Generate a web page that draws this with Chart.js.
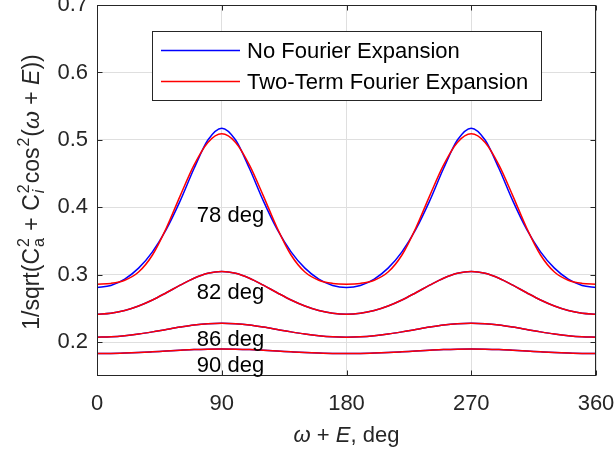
<!DOCTYPE html>
<html>
<head>
<meta charset="utf-8">
<script src="https://cdn.jsdelivr.net/npm/chart.js@4.4.1/dist/chart.umd.min.js"></script>
<style>
  html, body { margin: 0; padding: 0; background: #fff; }
</style>
</head>
<body>
<canvas id="chart" width="615" height="455"></canvas>
<script>
// 1/sqrt(Ca^2 + Ci^2 cos^2(w+E)) for four inclinations, exact vs two-term Fourier.
// Values every 10 deg.

const ANGLES = [0, 10, 20, 30, 40, 50, 60, 70, 80, 90, 100, 110, 120, 130, 140, 150, 160, 170, 180,
  190, 200, 210, 220, 230, 240, 250, 260, 270, 280, 290, 300, 310, 320, 330, 340, 350, 360];
const X_TICKS = [0, 90, 180, 270, 360];
const Y_TICKS = [0.2, 0.3, 0.4, 0.5, 0.6, 0.7];

const EXACT_78 = [0.2813, 0.2843, 0.2937, 0.3099, 0.3341, 0.3673, 0.4096, 0.4576, 0.4998, 0.5174,
  0.4998, 0.4576, 0.4096, 0.3673, 0.3341, 0.3099, 0.2937, 0.2843, 0.2813,
  0.2843, 0.2937, 0.3099, 0.3341, 0.3673, 0.4096, 0.4576, 0.4998, 0.5174,
  0.4998, 0.4576, 0.4096, 0.3673, 0.3341, 0.3099, 0.2937, 0.2843, 0.2813];
const FOURIER_78 = [0.2862, 0.2873, 0.2920, 0.3041, 0.3294, 0.3693, 0.4171, 0.4626, 0.4962, 0.5090,
  0.4962, 0.4626, 0.4171, 0.3693, 0.3294, 0.3041, 0.2920, 0.2873, 0.2862,
  0.2873, 0.2920, 0.3041, 0.3294, 0.3693, 0.4171, 0.4626, 0.4962, 0.5090,
  0.4962, 0.4626, 0.4171, 0.3693, 0.3294, 0.3041, 0.2920, 0.2873, 0.2862];
const EXACT_82 = [0.2417, 0.2431, 0.2471, 0.2538, 0.2627, 0.2734, 0.2846, 0.2950, 0.3023, 0.3050,
  0.3023, 0.2950, 0.2846, 0.2734, 0.2627, 0.2538, 0.2471, 0.2431, 0.2417,
  0.2431, 0.2471, 0.2538, 0.2627, 0.2734, 0.2846, 0.2950, 0.3023, 0.3050,
  0.3023, 0.2950, 0.2846, 0.2734, 0.2627, 0.2538, 0.2471, 0.2431, 0.2417];
const EXACT_86 = [0.2076, 0.2081, 0.2097, 0.2122, 0.2154, 0.2190, 0.2225, 0.2256, 0.2276, 0.2283,
  0.2276, 0.2256, 0.2225, 0.2190, 0.2154, 0.2122, 0.2097, 0.2081, 0.2076,
  0.2081, 0.2097, 0.2122, 0.2154, 0.2190, 0.2225, 0.2256, 0.2276, 0.2283,
  0.2276, 0.2256, 0.2225, 0.2190, 0.2154, 0.2122, 0.2097, 0.2081, 0.2076];
const EXACT_90 = [0.1832, 0.1834, 0.1840, 0.1848, 0.1859, 0.1871, 0.1882, 0.1892, 0.1898, 0.1900,
  0.1898, 0.1892, 0.1882, 0.1871, 0.1859, 0.1848, 0.1840, 0.1834, 0.1832,
  0.1834, 0.1840, 0.1848, 0.1859, 0.1871, 0.1882, 0.1892, 0.1898, 0.1900,
  0.1898, 0.1892, 0.1882, 0.1871, 0.1859, 0.1848, 0.1840, 0.1834, 0.1832];
// at 82, 86 and 90 deg the two curves can't be told apart in the picture
const FOURIER_82 = EXACT_82.slice();
const FOURIER_86 = EXACT_86.slice();
const FOURIER_90 = EXACT_90.slice();

const SERIES_NAMES = ["No Fourier Expansion", "Two-Term Fourier Expansion"];
const CURVE_LABELS = ["78 deg", "82 deg", "86 deg", "90 deg"];

// where the curve labels sit (data units: x, baseline y)
const LABEL_X = 96.3;
const LABEL_Y = [0.378, 0.2648, 0.1951, 0.1561];

const FONT = "'Liberation Sans', Arial, sans-serif";
const FONT_SIZE = 22;
const YTITLE_SIZE = 23;
const AXIS_COLOR = "#262626";
const GRID_COLOR = "#dfdfdf";
const BLUE = "#0000ff";
const RED = "#ff0000";

const Y_TITLE = [
  { t: "1/sqrt(C" }, { sup: "2", sub: "a" }, { t: " + C" }, { sup: "2", sub: "i", subIt: true },
  { t: "cos" }, { sup: "2" }, { t: "(" }, { t: "\u03c9", it: true }, { t: " + " }, { t: "E", it: true }, { t: "))" },
];
const X_TITLE = [{ t: "\u03c9", it: true }, { t: " + " }, { t: "E", it: true }, { t: ", deg" }];

function toPoints(values) {
  return values.map((v, i) => ({ x: ANGLES[i], y: v }));
}

function fontStr(size, italic) {
  return (italic ? "italic " : "") + size + "px " + FONT;
}

function drawRich(ctx, parts, size, x, y, angle) {
  const small = Math.round(size * 0.7);
  const widthOf = p => {
    if (p.t !== undefined) { ctx.font = fontStr(size, p.it); return ctx.measureText(p.t).width; }
    ctx.font = fontStr(small, false);
    const a = p.sup ? ctx.measureText(p.sup).width : 0;
    ctx.font = fontStr(small, p.subIt);
    const b = p.sub ? ctx.measureText(p.sub).width : 0;
    return Math.max(a, b) + 2;
  };
  const total = parts.reduce((s, p) => s + widthOf(p), 0);
  ctx.save();
  ctx.translate(x, y);
  ctx.rotate(angle);
  ctx.textAlign = "left";
  ctx.textBaseline = "alphabetic";
  let cx = -total / 2;
  parts.forEach(p => {
    const w = widthOf(p);
    if (p.t !== undefined) {
      ctx.font = fontStr(size, p.it);
      ctx.fillText(p.t, cx, 0);
    } else {
      ctx.font = fontStr(small, false);
      if (p.sup) ctx.fillText(p.sup, cx + 1, -size * 0.42);
      ctx.font = fontStr(small, p.subIt);
      if (p.sub) ctx.fillText(p.sub, cx + 1, size * 0.24);
    }
    cx += w;
  });
  ctx.restore();
}

const overlay = {
  id: "overlay",
  afterDraw(chart) {
    const { ctx, chartArea: a, scales: { x, y } } = chart;
    ctx.save();

    // axes box + inward ticks
    const L = Math.round(a.left) + 0.5, R = Math.round(a.right) - 0.5;
    const T = Math.round(a.top) + 0.5, B = Math.round(a.bottom) - 0.5;
    ctx.strokeStyle = AXIS_COLOR;
    ctx.lineWidth = 1;
    ctx.strokeRect(L, T, R - L, B - T);
    ctx.beginPath();
    X_TICKS.forEach(v => {
      const px = Math.round(x.getPixelForValue(v)) + 0.5;
      ctx.moveTo(px, B); ctx.lineTo(px, B - 5);
      ctx.moveTo(px, T); ctx.lineTo(px, T + 5);
    });
    Y_TICKS.forEach(v => {
      const py = Math.round(y.getPixelForValue(v)) + 0.5;
      ctx.moveTo(L, py); ctx.lineTo(L + 5, py);
      ctx.moveTo(R, py); ctx.lineTo(R - 5, py);
    });
    ctx.stroke();

    // curve labels
    ctx.fillStyle = "#000";
    ctx.font = fontStr(FONT_SIZE);
    ctx.textAlign = "center";
    ctx.textBaseline = "alphabetic";
    CURVE_LABELS.forEach((s, i) => {
      ctx.fillText(s, x.getPixelForValue(LABEL_X), y.getPixelForValue(LABEL_Y[i]));
    });

    // legend
    ctx.fillStyle = "#fff";
    ctx.fillRect(152.5, 31.5, 389, 69);
    ctx.strokeStyle = AXIS_COLOR;
    ctx.strokeRect(152.5, 31.5, 389, 69);
    const rows = [50.5, 81.5];
    [BLUE, RED].forEach((c, i) => {
      ctx.strokeStyle = c;
      ctx.lineWidth = 1.5;
      ctx.beginPath();
      ctx.moveTo(161, rows[i]); ctx.lineTo(240, rows[i]);
      ctx.stroke();
    });
    ctx.fillStyle = "#000";
    ctx.textAlign = "left";
    ctx.textBaseline = "middle";
    SERIES_NAMES.forEach((s, i) => ctx.fillText(s, 247, rows[i] + 1));

    // axis titles
    ctx.fillStyle = AXIS_COLOR;
    drawRich(ctx, X_TITLE, FONT_SIZE, (a.left + a.right) / 2, 442, 0);
    drawRich(ctx, Y_TITLE, YTITLE_SIZE, 38.5, 192, -Math.PI / 2);
    ctx.restore();
  },
};

function makeSet(values, color, order) {
  return { data: toPoints(values), borderColor: color, backgroundColor: color, order: order };
}

const tickFont = { family: FONT, size: FONT_SIZE };

new Chart(document.getElementById("chart"), {
  type: "line",
  data: {
    datasets: [
      makeSet(EXACT_78, BLUE, 1), makeSet(EXACT_82, BLUE, 1), makeSet(EXACT_86, BLUE, 1), makeSet(EXACT_90, BLUE, 1),
      makeSet(FOURIER_78, RED, 0), makeSet(FOURIER_82, RED, 0), makeSet(FOURIER_86, RED, 0), makeSet(FOURIER_90, RED, 0),
    ],
  },
  options: {
    responsive: false,
    animation: false,
    devicePixelRatio: 1,
    layout: { padding: { left: 0, right: 19, top: 5, bottom: 0 } },
    plugins: { legend: { display: false }, tooltip: { enabled: false } },
    elements: {
      point: { radius: 0 },
      line: { borderWidth: 1.5, cubicInterpolationMode: "monotone", fill: false },
    },
    scales: {
      x: {
        type: "linear", min: 0, max: 360,
        afterFit: s => { s.height = 79; s.paddingLeft = 0; s.paddingRight = 0; },
        afterBuildTicks: s => { s.ticks = X_TICKS.map(v => ({ value: v })); },
        grid: { color: GRID_COLOR, drawTicks: false },
        border: { display: false },
        ticks: { padding: 15, font: tickFont, color: AXIS_COLOR, maxRotation: 0, autoSkip: false, callback: v => String(v) },
      },
      y: {
        type: "linear", min: 0.15, max: 0.7,
        afterFit: s => { s.width = 97; s.paddingTop = 0; s.paddingBottom = 0; },
        afterBuildTicks: s => { s.ticks = Y_TICKS.map(v => ({ value: v })); },
        grid: { color: GRID_COLOR, drawTicks: false },
        border: { display: false },
        ticks: { padding: 9, font: tickFont, color: AXIS_COLOR, autoSkip: false, callback: v => v.toFixed(1) },
      },
    },
  },
  plugins: [overlay],
});
</script>
</body>
</html>
